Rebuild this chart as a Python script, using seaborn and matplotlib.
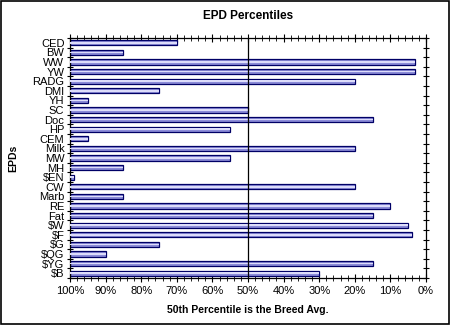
import matplotlib
matplotlib.use("Agg")
import matplotlib.pyplot as plt
import seaborn as sns
import pandas as pd
from matplotlib.ticker import MultipleLocator, FuncFormatter, FixedLocator
from matplotlib.patches import Rectangle

categories = ["CED", "BW", "WW", "YW", "RADG", "DMI", "YH", "SC", "Doc", "HP",
              "CEM", "Milk", "MW", "MH", "$EN", "CW", "Marb", "RE", "Fat", "$W",
              "$F", "$G", "$QG", "$YG", "$B"]
percentiles = [70, 85, 3, 3, 20, 75, 95, 50, 15, 55,
               95, 20, 55, 85, 99, 20, 85, 10, 15, 5,
               4, 75, 90, 15, 30]
x_ticks = [100, 90, 80, 70, 60, 50, 40, 30, 20, 10, 0]

df = pd.DataFrame({"EPD": categories, "pct": percentiles})
df["length"] = 100 - df["pct"]

sns.set_theme(style="white")
plt.rcParams["font.family"] = ["Liberation Sans", "DejaVu Sans"]
plt.rcParams["text.color"] = "black"
plt.rcParams["axes.labelcolor"] = "black"
plt.rcParams["xtick.color"] = "black"
plt.rcParams["ytick.color"] = "black"

fig = plt.figure(figsize=(4.5, 3.25), dpi=100)
ax = fig.add_axes([70/450, 1-278/325, (426-70)/450, (278-38)/325])

sns.barplot(data=df, x="length", y="EPD", orient="h", ax=ax,
            color="#8c8cd8", edgecolor="#000066", linewidth=0.9,
            width=0.55, saturation=1)
# lighter highlight stripe inside each bar
ax.barh(range(len(categories)), df["length"], height=0.18,
        color="#dcdcfa", edgecolor="none", zorder=3)

ax.set_xlim(0, 100)
ax.set_ylim(len(categories) - 0.5, -0.5)
ax.axvline(50, color="black", lw=0.9, zorder=4)

ax.xaxis.set_major_locator(MultipleLocator(10))
ax.xaxis.set_minor_locator(MultipleLocator(2))
ax.xaxis.set_major_formatter(FuncFormatter(lambda v, p: f"{100 - v:.0f}%"))
ax.yaxis.set_minor_locator(FixedLocator([i - 0.5 for i in range(len(categories) + 1)]))

ax.tick_params(axis="x", which="major", direction="inout", length=6, width=0.8,
               top=True, bottom=True, labelsize=8, pad=3, colors="black")
ax.tick_params(axis="x", which="minor", direction="inout", length=4, width=0.6,
               top=True, bottom=True)
ax.tick_params(axis="y", which="major", length=0, labelsize=8, pad=4, colors="black")
ax.tick_params(axis="y", which="minor", direction="inout", length=5, width=0.8,
               left=True, right=True)

for s in ax.spines.values():
    s.set_visible(True)
    s.set_color("black")
    s.set_linewidth(0.9)

ax.set_xlabel("50th Percentile is the Breed Avg.", fontsize=7.5,
              fontweight="bold", labelpad=6, color="black")
ax.set_ylabel("EPDs", fontsize=7.5, fontweight="bold", labelpad=10, color="black")
ax.set_title("EPD Percentiles", fontsize=8.5, fontweight="bold", pad=14, color="black")

fig.patches.append(Rectangle((0.002, 0.003), 0.995, 0.994, transform=fig.transFigure,
                             fill=False, edgecolor="black", lw=1.2))
fig.savefig("out.png", dpi=100)
